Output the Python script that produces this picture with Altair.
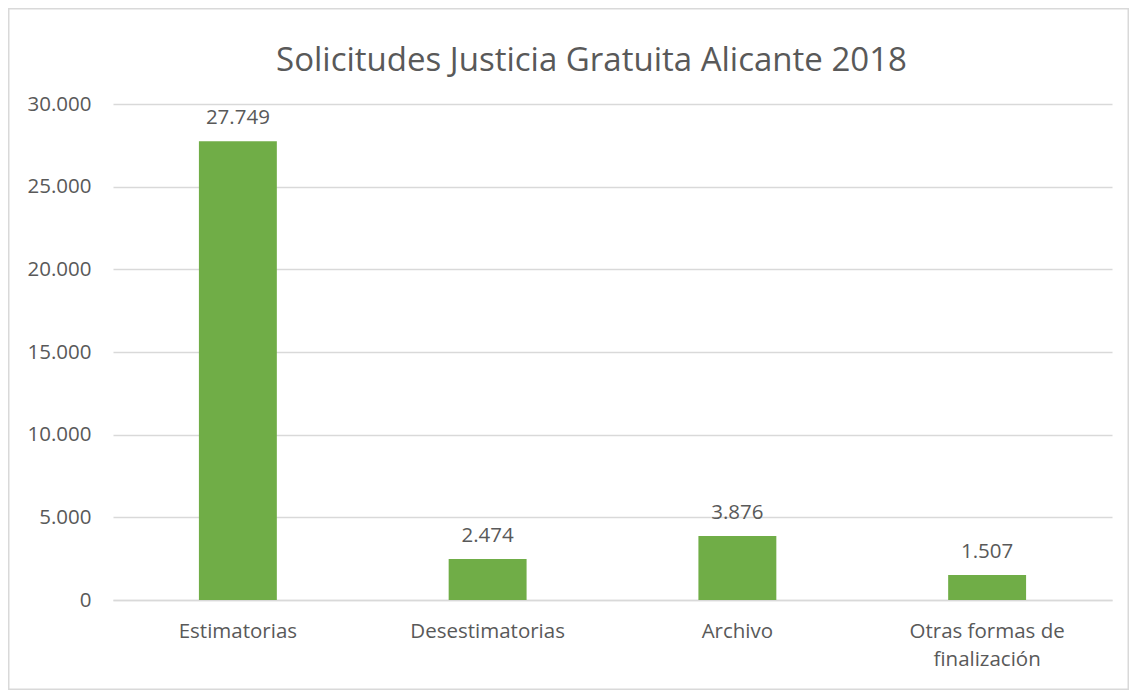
import altair as alt
import pandas as pd

categories = ["Estimatorias", "Desestimatorias", "Archivo", "Otras formas de finalización"]
values = [27749, 2474, 3876, 1507]
y_ticks = [0, 5000, 10000, 15000, 20000, 25000, 30000]
title_text = "Solicitudes Justicia Gratuita Alicante 2018"

df = pd.DataFrame({"cat": categories, "val": values})

W, H = 999, 496
PL, PT, PR, PB = 105, 96, 17, 90
FONT = "Open Sans"
GRAY = "#595959"
FS = 20.5

x_enc = alt.X("cat:N", sort=categories, title=None,
              scale=alt.Scale(paddingInner=0.688, paddingOuter=0.344),
              axis=alt.Axis(labelFontSize=FS, labelColor=GRAY, labelFont=FONT,
                            labelAngle=0, labelPadding=21, ticks=False,
                            domainColor="#D9D9D9", domainWidth=1.5,
                            labelLineHeight=28,
                            labelExpr="datum.label == 'Otras formas de finalización' ? ['Otras formas de', 'finalización'] : datum.label"))
y_enc = alt.Y("val:Q", title=None,
              scale=alt.Scale(domain=[0, 30000], nice=False),
              axis=alt.Axis(values=y_ticks, format=",.0f", labelFontSize=FS, labelColor=GRAY,
                            labelFont=FONT, labelPadding=22, ticks=False, domain=False,
                            gridColor="#D9D9D9", gridWidth=1.3))

bars = alt.Chart(df).mark_bar(color="#70AD47").encode(x=x_enc, y=y_enc)
labels = alt.Chart(df).mark_text(baseline="bottom", dy=-13, fontSize=FS, color=GRAY, font=FONT).encode(
    x=alt.X("cat:N", sort=categories), y="val:Q", text=alt.Text("val:Q", format=",.0f"))

border = alt.Chart(pd.DataFrame({"a": [0]})).mark_rect(fill=None, stroke="#D9D9D9", strokeWidth=1.5).encode(
    x=alt.value(-PL + 0.75), x2=alt.value(W + PR - 0.75),
    y=alt.value(-PT + 0.75), y2=alt.value(H + PB - 0.75))

title = alt.Chart(pd.DataFrame({"t": [title_text]})).mark_text(
    fontSize=33, font=FONT, color=GRAY, align="center", baseline="middle").encode(
    x=alt.value(W / 2 - 21), y=alt.value(-43), text="t:N")

chart = alt.layer(bars, labels, border, title).properties(
    width=W, height=H,
    autosize=alt.AutoSizeParams(type="none"),
    padding={"left": PL, "top": PT, "right": PR, "bottom": PB},
).configure(
    locale={"number": {"decimal": ",", "thousands": ".", "grouping": [3], "currency": ["", " €"]}}
).configure_view(stroke=None)

chart.save("out.html", embed_options={"renderer": "svg", "actions": False})
